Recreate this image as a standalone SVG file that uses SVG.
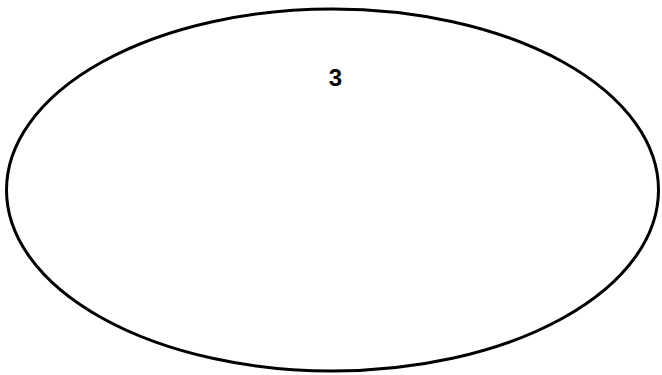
<svg xmlns="http://www.w3.org/2000/svg" width="662" height="375" viewBox="0 0 662 375">
<style>
.node{fill:#fff;stroke:#000;stroke-width:3}
.lbl{font-family:"Liberation Sans",Arial,sans-serif;font-weight:bold;font-size:24px;fill:#000;text-anchor:middle}
</style>
<rect width="662" height="375" fill="#fff"/>
<g id="node-3">
<ellipse class="node" cx="332.5" cy="190" rx="326" ry="181"/>
<text class="lbl" x="335.5" y="86">3</text>
</g>
<g id="connectors"></g>
</svg>
